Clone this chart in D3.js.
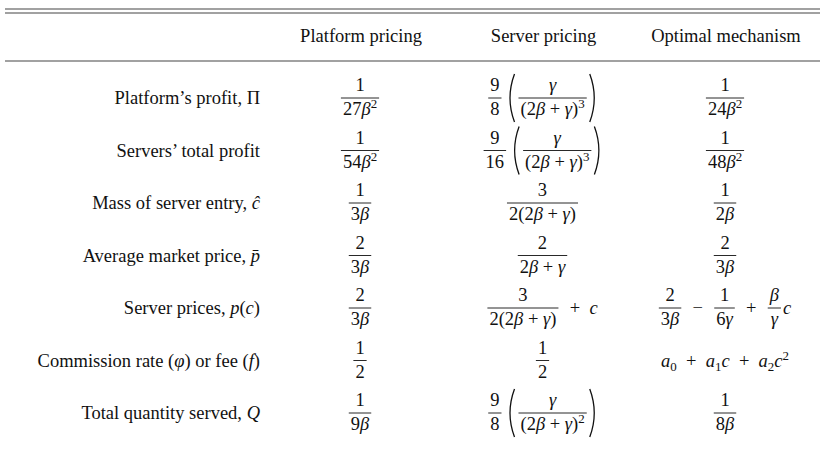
<!DOCTYPE html><html><head><meta charset="utf-8">
<script src="https://cdn.jsdelivr.net/npm/d3@7"></script>
<style>body{margin:0;background:#fff}</style></head><body><svg id="c" width="825" height="469"></svg>
<script>
const headers = ["Platform pricing","Server pricing","Optimal mechanism"];
const rowLabels = [["Platform’s profit, Π"],["Servers’ total profit"],["Mass of server entry, ","ĉ"],["Average market price, ","p̄"],["Server prices, ","p","(","c",")"],["Commission rate (","φ",") or fee (","f",")"],["Total quantity served, ","Q"]];
const platformCol = [[["F","1","27β^2"]],[["F","1","54β^2"]],[["F","1","3β"]],[["F","2","3β"]],[["F","2","3β"]],[["F","1","2"]],[["F","1","9β"]]];
const serverCol = [[["F","9","8"],["P","γ","(2β + γ)^3"]],[["F","9","16"],["P","γ","(2β + γ)^3"]],[["F","3","2(2β + γ)"]],[["F","2","2β + γ"]],[["F","3","2(2β + γ)"],["T"," + c"]],[["F","1","2"]],[["F","9","8"],["P","γ","(2β + γ)^2"]]];
const optimalCol = [[["F","1","24β^2"]],[["F","1","48β^2"]],[["F","1","2β"]],[["F","2","3β"]],[["F","2","3β"],["T"," − "],["F","1","6γ"],["T"," + "],["F","β","γ"],["T","c"]],[["T","a_0 + a_1c + a_2c^2"]],[["F","1","8β"]]];
const cols=[platformCol,serverCol,optimalCol];
const svg=d3.select("#c"), FS=18.5, FONT="'Liberation Serif','DejaVu Serif',serif";
const colX=d3.scalePoint().domain(headers).range([361,726]);
const rowY=d3.scalePoint().domain(d3.range(7)).range([98,413]);
function mathText(g,s,x,y,anchor){
  const t=g.append("text").attr("x",x).attr("y",y).attr("font-family",FONT).attr("font-size",FS).attr("fill","#111").attr("xml:space","preserve");
  if(anchor)t.attr("text-anchor",anchor);
  let i=0,pend=0;
  while(i<s.length){
    let ch=s[i];
    if(ch==="^"||ch==="_"){const d=ch==="^"?-7:4;t.append("tspan").attr("font-size",FS*0.7).attr("dy",d+pend).text(s[i+1]);pend=-d;i+=2;continue;}
    let chunk=ch; if(s[i+1]&&/[\u0300-\u036f]/.test(s[i+1])){chunk+=s[i+1];i++;}
    const it=/[a-zA-Zβγφĉ]/.test(ch);
    const ts=t.append("tspan").attr("font-style",it?"italic":"normal").text(chunk);
    if(pend){ts.attr("dy",pend);pend=0;}
    i++;
  }
  return t;
}
function w(t){return t.node().getComputedTextLength();}
function drawFrac(g,num,den,x,y){
  const n=mathText(g,num,0,y-7,"middle"),d=mathText(g,den,0,y+17,"middle");
  const W=Math.max(w(n),w(d))+4;
  n.attr("x",x+W/2);d.attr("x",x+W/2);
  g.append("line").attr("x1",x).attr("x2",x+W).attr("y1",y).attr("y2",y).attr("stroke","#111").attr("stroke-width",0.9);
  return W;
}
cols.forEach((col,ci)=>col.forEach((parts,ri)=>{
  const g=svg.append("g"),y=rowY(ri);let x=0;
  parts.forEach(p=>{
    if(p[0]==="F"){x+=drawFrac(g,p[1],p[2],x,y)+2;}
    else if(p[0]==="T"){const t=mathText(g,p[1].replace(/ /g,"\u2002"),x,y+6);x+=w(t)+2;}
    else {x+=4;
      g.append("path").attr("d",`M${x+7},${y-24} Q${x-2},${y} ${x+7},${y+24}`).attr("fill","none").attr("stroke","#111").attr("stroke-width",1.3);
      x+=11;x+=drawFrac(g,p[1],p[2],x,y);x+=3;
      g.append("path").attr("d",`M${x},${y-24} Q${x+9},${y} ${x},${y+24}`).attr("fill","none").attr("stroke","#111").attr("stroke-width",1.3);
      x+=9;}
  });
  const cx=colX(headers[ci]);g.attr("transform",`translate(${cx-x/2},0)`);
}));
rowLabels.forEach((lab,ri)=>{
  const t=svg.append("text").attr("x",260).attr("y",rowY(ri)+6).attr("text-anchor","end").attr("font-family",FONT).attr("font-size",FS).attr("fill","#111");
  lab.forEach((s,k)=>t.append("tspan").attr("font-style",k%2===1?"italic":"normal").text(s));
});
headers.forEach(h=>svg.append("text").attr("x",colX(h)).attr("y",42).attr("text-anchor","middle").attr("font-family",FONT).attr("font-size",FS).attr("fill","#111").text(h));
[9,13,61].forEach(y=>svg.append("line").attr("x1",5).attr("x2",820).attr("y1",y).attr("y2",y).attr("stroke","#444").attr("stroke-width",1.2));
</script></body></html>
